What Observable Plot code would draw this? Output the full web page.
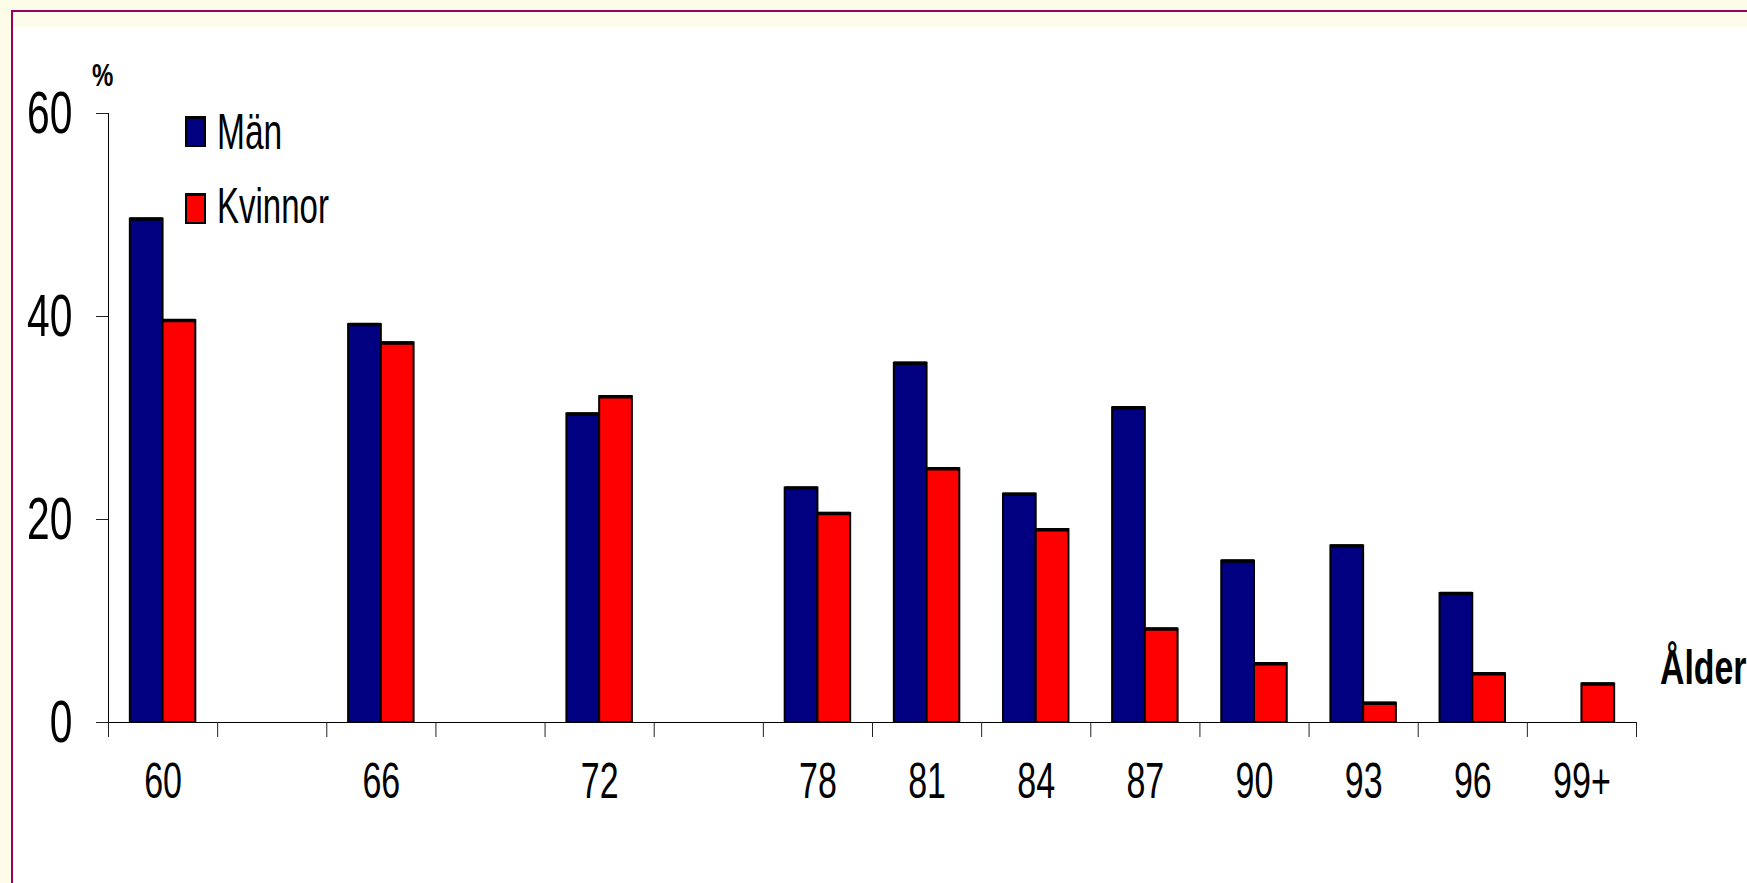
<!DOCTYPE html>
<html>
<head>
<meta charset="utf-8">
<script src="https://cdn.jsdelivr.net/npm/d3@7"></script>
<script src="https://cdn.jsdelivr.net/npm/@observablehq/plot@0.6"></script>
<style>
  html, body { margin: 0; padding: 0; }
  body { width: 1747px; height: 883px; overflow: hidden; background: #fcfce8; position: relative;
         font-family: "Liberation Sans", Arial, sans-serif; }
  #frame { position: absolute; left: 11px; top: 10px; width: 1800px; height: 900px;
           border-left: 2px solid #990066; border-top: 2px solid #990066;
           background: linear-gradient(#fcfce8 0 15px, #ffffff 15px); }
  #chart { position: absolute; left: 0; top: 0; }
  .lbl { position: absolute; line-height: 1; white-space: nowrap; color: #000;
         display: inline-block; transform-origin: left top; }
  .sw { position: absolute; width: 21px; height: 31px; box-sizing: border-box; border: 2px solid #000; border-top-width: 3px; }
</style>
</head>
<body>
<div id="frame"></div>
<div id="chart"></div>
<script>
// ---- data ----
const ages = ["60", "", "66", "", "72", "", "78", "81", "84", "87", "90", "93", "96", "99+"];
const man = [49.6, null, 39.2, null, 30.4, null, 23.1, 35.4, 22.5, 31.0, 15.9, 17.4, 12.7, null];
const kvinnor = [39.6, null, 37.4, null, 32.1, null, 20.6, 25.0, 19.0, 9.2, 5.8, 1.9, 4.8, 3.8];
const series = ["Män", "Kvinnor"];
const colors = ["#000080", "#ff0000"];
const yTicks = [0, 20, 40, 60];

const rows = [];
ages.forEach((a, i) => {
  if (man[i] != null) rows.push({i, age: a, sex: series[0], value: man[i]});
  if (kvinnor[i] != null) rows.push({i, age: a, sex: series[1], value: kvinnor[i]});
});
const labels = ages.map((a, i) => ({i, age: a})).filter(d => d.age !== "");

// position of each series' bar within its slot (fraction of slot)
const slotPos = {"Män": [0.2, 0.5], "Kvinnor": [0.5, 0.8]};

const plot = Plot.plot({
  width: 1747,
  height: 883,
  marginLeft: 108,
  marginRight: 111,
  marginTop: 113,
  marginBottom: 161,
  style: {background: "transparent", fontFamily: "Liberation Sans, Arial, sans-serif", fontSize: "60px", color: "#000", overflow: "visible"},
  x: {type: "linear", domain: [0, ages.length], ticks: d3.range(ages.length + 1), tickFormat: () => "", tickSize: 15, line: true, label: null},
  y: {domain: [0, 60], ticks: yTicks, tickSize: 12, tickPadding: 24, line: true, label: null},
  color: {domain: series, range: colors},
  marks: [
    Plot.rectY(rows, {
      x1: d => d.i + slotPos[d.sex][0],
      x2: d => d.i + slotPos[d.sex][1],
      y1: 0,
      y2: "value",
      fill: "sex",
      stroke: "#000",
      strokeWidth: 2
    }),
    Plot.ruleY(rows, {
      x1: d => d.i + slotPos[d.sex][0],
      x2: d => d.i + slotPos[d.sex][1],
      y: "value",
      stroke: "#000",
      strokeWidth: 3.5
    }),
    Plot.text(labels, {
      x: d => d.i + 0.5,
      frameAnchor: "bottom",
      dy: 75,
      text: "age",
      fontSize: 50,
      textAnchor: "middle"
    })
  ]
});
document.getElementById("chart").appendChild(plot);

// narrow (condensed) lettering as in the original
plot.querySelectorAll("text").forEach(t => {
  const w = t.getComputedTextLength();
  if (w > 0) {
    t.setAttribute("textLength", (w * 0.68).toFixed(1));
    t.setAttribute("lengthAdjust", "spacingAndGlyphs");
  }
});
plot.querySelectorAll("line, path").forEach(l => {
  if (l.closest('[aria-label*="axis"]')) { l.setAttribute("stroke", "#222"); }
});

// legend and axis titles (HTML)
function addLabel(text, left, top, size, bold, sx) {
  const s = document.createElement("span");
  s.className = "lbl";
  s.textContent = text;
  s.style.left = left + "px";
  s.style.top = top + "px";
  s.style.fontSize = size + "px";
  s.style.fontWeight = bold ? "bold" : "normal";
  s.style.transform = `scaleX(${sx})`;
  document.body.appendChild(s);
}
function addSwatch(color, left, top) {
  const d = document.createElement("div");
  d.className = "sw";
  d.style.left = left + "px";
  d.style.top = top + "px";
  d.style.background = color;
  document.body.appendChild(d);
}
addSwatch(colors[0], 185, 116);
addLabel(series[0], 217, 107, 50, false, 0.67);
addSwatch(colors[1], 185, 193);
addLabel(series[1], 217, 181, 50, false, 0.66);
addLabel("%", 92, 59, 32, true, 0.75);
addLabel("Ålder", 1660, 643, 49, true, 0.69);
</script>
</body>
</html>
